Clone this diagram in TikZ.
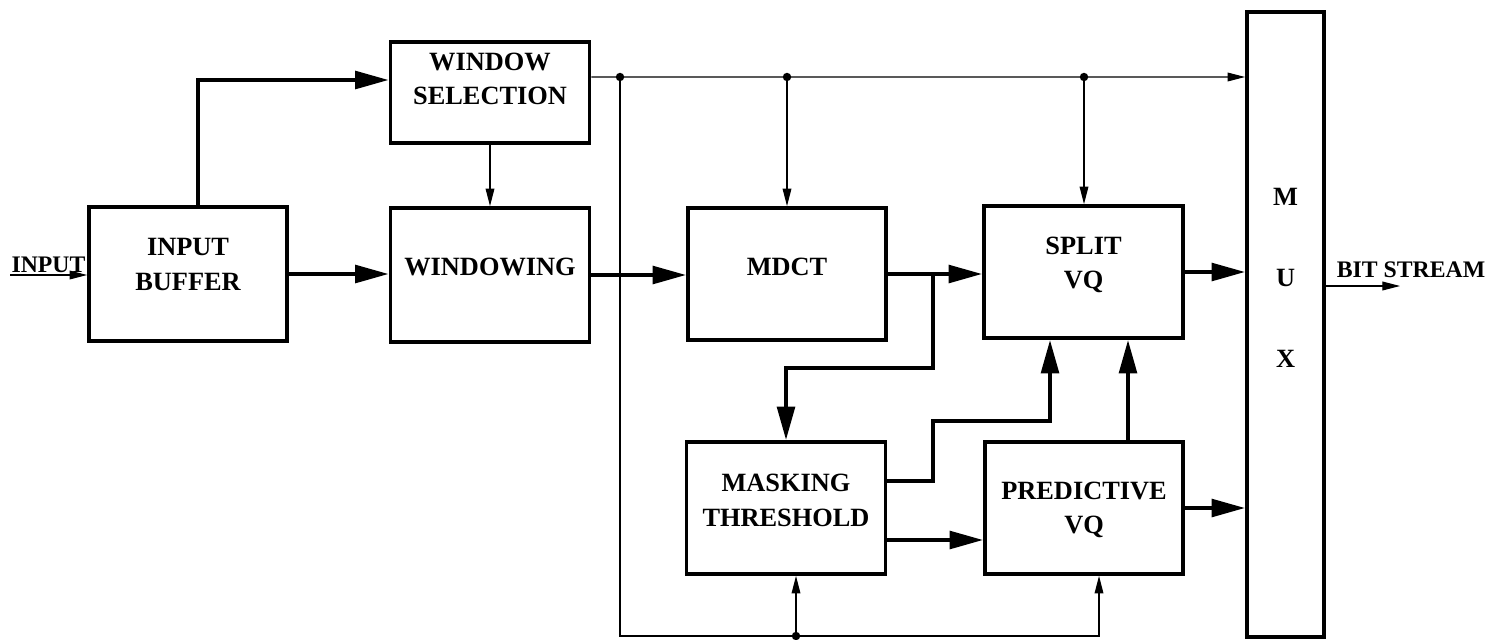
\documentclass[tikz,border=0pt]{standalone}
\usepackage{fontspec}
\setmainfont{Liberation Serif}
\usetikzlibrary{arrows.meta}

\begin{document}
\begin{tikzpicture}[x=0.02cm, y=-0.02cm,
  blk/.style={draw, line width=2.2pt, inner sep=0pt},
  txt/.style={align=center, inner sep=0pt, font=\fontsize{15}{19.8}\selectfont\bfseries},
  lbl/.style={inner sep=1pt, font=\fontsize{13.5}{16}\selectfont\bfseries},
  fat/.style={line width=2.2pt, -{Triangle[length=19pt,width=10pt]}},
  sig/.style={line width=0.6pt, -{Triangle[length=10pt,width=5pt]}}]
  \useasboundingbox (0,0) rectangle (1493,639);
  % blocks
  \node[blk, minimum width=3.96cm, minimum height=2.68cm] (buf) at (188,274) {};
  \node[blk, minimum width=3.98cm, minimum height=2.02cm] (wsel) at (490,92.5) {};
  \node[blk, minimum width=3.98cm, minimum height=2.68cm] (win) at (490,275) {};
  \node[blk, minimum width=3.96cm, minimum height=2.64cm] (mdct) at (787,274) {};
  \node[blk, minimum width=3.98cm, minimum height=2.64cm] (mask) at (786,508) {};
  \node[blk, minimum width=3.98cm, minimum height=2.64cm] (split) at (1083.5,272) {};
  \node[blk, minimum width=3.96cm, minimum height=2.64cm] (pred) at (1084,508) {};
  \node[blk, minimum width=1.54cm, minimum height=12.5cm] (mux) at (1285.5,324.5) {};
  % block texts
  \node[txt] (buf-t) at ([yshift=0.19cm]buf.center) {INPUT\\BUFFER};
  \node[txt] (wsel-t) at ([yshift=0.27cm]wsel.center) {WINDOW\\SELECTION};
  \node[txt] (win-t) at ([yshift=0.16cm]win.center) {WINDOWING};
  \node[txt] (mdct-t) at ([yshift=0.14cm]mdct.center) {MDCT};
  \node[txt] (mask-t) at ([yshift=0.15cm]mask.center) {MASKING\\THRESHOLD};
  \node[txt] (split-t) at ([yshift=0.14cm]split.center) {SPLIT\\VQ};
  \node[txt] (pred-t) at ([yshift=-0.04cm]pred.center) {PREDICTIVE\\VQ};
  \node[txt] (mux-t) at (1285.5,278) {M\\[26.5pt]U\\[26.5pt]X};
  % input and output
  \coordinate (in) at (10,275);
  \draw[sig] (in) -- node[lbl, above] (inlbl) {INPUT} (in -| buf.west);
  \coordinate (out) at (1400,286);
  \draw[sig] (mux.east |- out) -- (out);
  \node[lbl] (bitlbl) at (1411,270) {BIT STREAM};
  % main path
  \draw[fat] (buf.east) -- (buf.east -| win.west);
  \draw[fat] ([xshift=0.2cm]buf.north) |- ([yshift=0.25cm]wsel.west);
  \draw[sig] (wsel.south) -- (win.north);
  \draw[fat] (win.east) -- (win.east -| mdct.west);
  \draw[fat] (mdct.east) -- (mdct.east -| split.west);
  \draw[fat] (split.east) -- (split.east -| mux.west);
  \draw[fat] (pred.east) -- (pred.east -| mux.west);
  % window selection side info
  \coordinate (t1) at (620,77);
  \coordinate (t2) at (787,77);
  \coordinate (t3) at (1084,77);
  \draw[sig] ([yshift=0.31cm]wsel.east) -- (t3 -| mux.west);
  \draw[sig] (t2) -- (t2 |- mdct.north);
  \draw[sig] (t3) -- (t3 |- split.north);
  \coordinate (b2) at (796,636);
  \coordinate (b3) at (1099,636);
  \draw[sig] (t1) |- (b3) -- (b3 |- pred.south);
  \draw[sig] (b2) -- (b2 |- mask.south);
  \foreach \p in {t1,t2,t3,b2}
    \fill (\p) circle (2.4pt);
  % masking threshold
  \coordinate (m1) at (933,274);
  \coordinate (m2) at (933,368);
  \draw[fat] (m1) -- (m2) -| (mask.north);
  \coordinate (k0) at ([yshift=0.54cm]mask.east);
  \coordinate (k1) at (933,421);
  \draw[fat] (k0) -| (k1) -| ([xshift=-0.67cm]split.south);
  \coordinate (k2) at ([yshift=-0.64cm]mask.east);
  \draw[fat] (k2) -- (k2 -| pred.west);
  \coordinate (p1) at ([xshift=0.88cm]pred.north);
  \draw[fat] (p1) -- (p1 |- split.south);
\end{tikzpicture}
\end{document}
